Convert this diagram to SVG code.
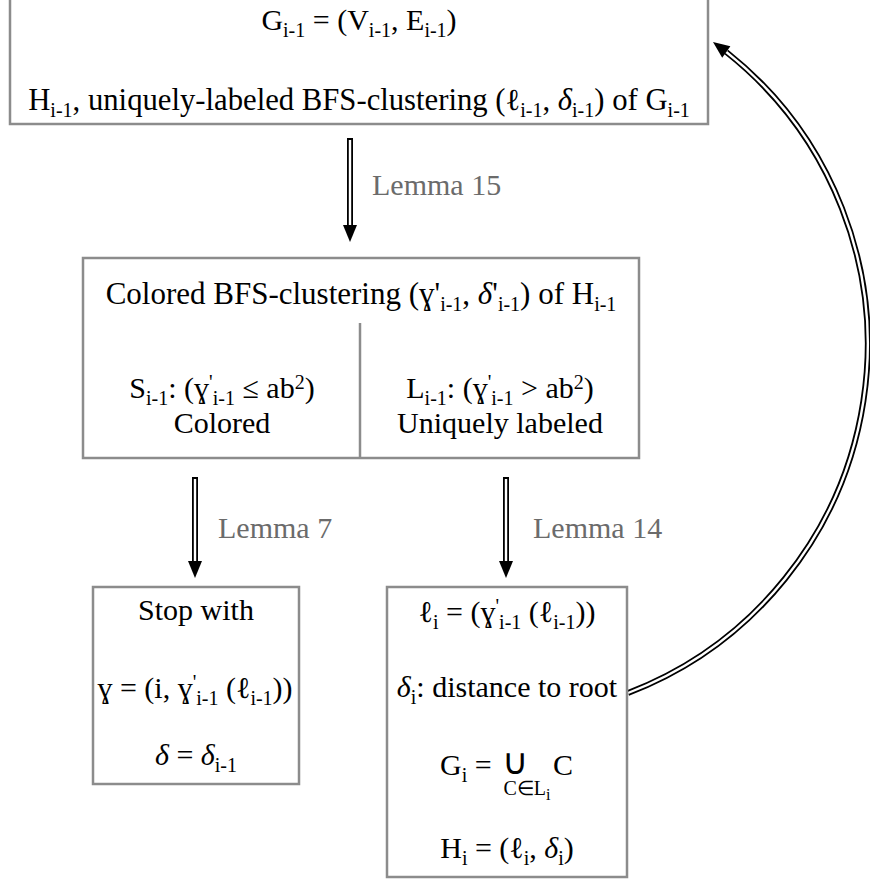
<svg xmlns="http://www.w3.org/2000/svg" width="870" height="884" viewBox="0 0 870 884">
<style>
.box{fill:#fff;stroke:#8c8c8c;stroke-width:2.5}
.t{font-family:"Liberation Serif","Times New Roman",serif;font-size:30px;fill:#000;text-anchor:middle}
.lem{font-family:"Liberation Serif","Times New Roman",serif;font-size:30px;fill:#6b6b6b}
.s{font-size:20px;baseline-shift:-7px}
.p{font-size:20px;baseline-shift:9px}
.d{font-style:italic}
.outer{fill:none;stroke:#000;stroke-width:6}
.inner{fill:none;stroke:#fff;stroke-width:2.4}
</style>
<rect width="870" height="884" fill="#fff"/>
<g id="connectors">
  <line class="outer" x1="350" y1="138" x2="350" y2="226"/>
  <line class="inner" x1="350" y1="140" x2="350" y2="227"/>
  <polygon points="343,225 357,225 350,242" fill="#000"/>
  <line class="outer" x1="195" y1="477" x2="195" y2="562"/>
  <line class="inner" x1="195" y1="479" x2="195" y2="563"/>
  <polygon points="188,561 202,561 195,578" fill="#000"/>
  <line class="outer" x1="506" y1="477" x2="506" y2="562"/>
  <line class="inner" x1="506" y1="479" x2="506" y2="563"/>
  <polygon points="499,561 513,561 506,578" fill="#000"/>
  <path class="outer" d="M628,693 A373.2,373.2 0 0 0 726.3,52"/>
  <path class="inner" d="M628,693 A373.2,373.2 0 0 0 726.3,52"/>
  <polygon points="713,42 730.4,46.3 722.2,57.7" fill="#000"/>
  <text class="lem" x="372" y="195">Lemma 15</text>
  <text class="lem" x="218" y="538">Lemma 7</text>
  <text class="lem" x="533" y="538">Lemma 14</text>
</g>
<g id="top">
  <rect class="box" x="10" y="-5" width="698" height="129"/>
  <text class="t" x="359" y="30">G<tspan class="s">i-1</tspan> = (V<tspan class="s">i-1</tspan>, E<tspan class="s">i-1</tspan>)</text>
  <text class="t" x="359" y="110" style="font-size:30.7px">H<tspan class="s">i-1</tspan>, uniquely-labeled BFS-clustering (ℓ<tspan class="s">i-1</tspan>, <tspan class="d">δ</tspan><tspan class="s">i-1</tspan>) of G<tspan class="s">i-1</tspan></text>
</g>
<g id="middle">
  <rect class="box" x="83" y="258" width="556" height="200"/>
  <line x1="360" y1="323" x2="360" y2="458" stroke="#8c8c8c" stroke-width="2.5"/>
  <text class="t" x="361" y="304" style="font-size:31px">Colored BFS-clustering (ɣ'<tspan class="s">i-1</tspan>, <tspan class="d">δ</tspan>'<tspan class="s">i-1</tspan>) of H<tspan class="s">i-1</tspan></text>
  <text class="t" x="222" y="398">S<tspan class="s">i-1</tspan>: (ɣ<tspan class="p">'</tspan><tspan class="s">i-1</tspan> ≤ ab<tspan class="p">2</tspan>)</text>
  <text class="t" x="222" y="433">Colored</text>
  <text class="t" x="500" y="398">L<tspan class="s">i-1</tspan>: (ɣ<tspan class="p">'</tspan><tspan class="s">i-1</tspan> &gt; ab<tspan class="p">2</tspan>)</text>
  <text class="t" x="500" y="433">Uniquely labeled</text>
</g>
<g id="stop">
  <rect class="box" x="93" y="587" width="206" height="197"/>
  <text class="t" x="196" y="620">Stop with</text>
  <text class="t" x="195" y="698">ɣ = (i, ɣ<tspan class="p">'</tspan><tspan class="s">i-1</tspan> (ℓ<tspan class="s">i-1</tspan>))</text>
  <text class="t" x="196" y="765"><tspan class="d">δ</tspan> = <tspan class="d">δ</tspan><tspan class="s">i-1</tspan></text>
</g>
<g id="next">
  <rect class="box" x="387" y="587" width="240" height="290"/>
  <text class="t" x="507" y="622">ℓ<tspan class="s">i</tspan> = (ɣ<tspan class="p">'</tspan><tspan class="s">i-1</tspan> (ℓ<tspan class="s">i-1</tspan>))</text>
  <text class="t" x="507" y="697"><tspan class="d">δ</tspan><tspan class="s">i</tspan>: distance to root</text>
  <text class="t" x="440" y="775" style="text-anchor:start">G<tspan class="s">i</tspan> =</text>
  <text class="t" x="515" y="774" style="font-size:36px">∪</text>
  <text class="t" x="553" y="775" style="text-anchor:start">C</text>
  <text class="t" x="527" y="795" style="font-size:20px">C∈L<tspan class="s" style="font-size:16px;baseline-shift:-5px">i</tspan></text>
  <text class="t" x="507" y="858">H<tspan class="s">i</tspan> = (ℓ<tspan class="s">i</tspan>, <tspan class="d">δ</tspan><tspan class="s">i</tspan>)</text>
</g>
</svg>
